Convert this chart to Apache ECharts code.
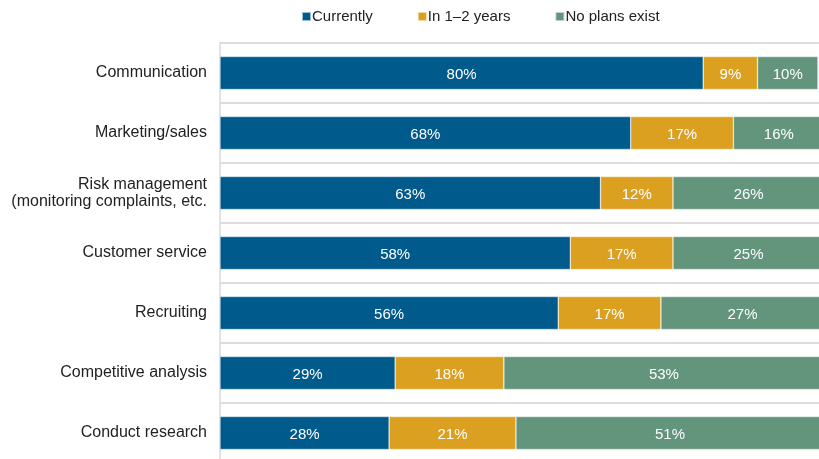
<!DOCTYPE html>
<html>
<head>
<meta charset="utf-8">
<script src="https://cdn.jsdelivr.net/npm/echarts@6/dist/echarts.min.js"></script>
<style>
  html, body { margin: 0; padding: 0; background: #fff; }
  #chart { width: 819px; height: 459px; }
</style>
</head>
<body>
<div id="chart"></div>
<script>
// Use of social media by purpose (share of respondents, %)
const categories = [
  'Communication',
  'Marketing/sales',
  'Risk management\n(monitoring complaints, etc.',
  'Customer service',
  'Recruiting',
  'Competitive analysis',
  'Conduct research'
];
const currently = [80, 68, 63, 58, 56, 29, 28];
const inOneToTwoYears = [9, 17, 12, 17, 17, 18, 21];
const noPlansExist = [10, 16, 26, 25, 27, 53, 51];

const seriesNames = ['Currently', 'In 1\u20132 years', 'No plans exist'];
const colors = ['#005a8b', '#dca020', '#62957b'];

const font = 'Liberation Sans, Arial, sans-serif';

function makeSeries(name, data, color) {
  return {
    name: name,
    type: 'bar',
    stack: 'total',
    data: data,
    barWidth: '55%',
    itemStyle: { color: color, borderColor: 'rgba(255,255,255,0.6)', borderWidth: 0.6 },
    label: {
      show: true,
      position: 'inside',
      offset: [0, 2],
      color: '#ffffff',
      fontFamily: font,
      fontSize: 15,
      formatter: p => p.value + '%'
    }
  };
}

const chart = echarts.init(document.getElementById('chart'));
chart.setOption({
  animation: false,
  textStyle: { fontFamily: font },
  legend: {
    top: 9,
    left: 301,
    padding: 0,
    itemWidth: 9,
    itemHeight: 9,
    itemGap: 44,
    icon: 'rect',
    textStyle: { fontSize: 15, color: '#222', fontFamily: font, padding: [0, 0, 0, -4] },
    data: seriesNames
  },
  grid: {
    left: 220, width: 604, top: 43, height: 420,
    containLabel: false, outerBoundsMode: 'none'
  },
  xAxis: {
    type: 'value',
    min: 0,
    max: 100,
    show: false
  },
  yAxis: {
    type: 'category',
    inverse: true,
    data: categories,
    axisLine: { show: true, lineStyle: { color: '#d9d9d9', width: 1.5 } },
    axisTick: { show: false },
    splitLine: { show: true, lineStyle: { color: '#dddddd', width: 2 } },
    axisLabel: {
      color: '#222',
      fontSize: 16,
      fontFamily: font,
      margin: 13,
      align: 'right',
      lineHeight: 17,
      padding: [4, 0, 0, 0]
    }
  },
  series: [
    makeSeries(seriesNames[0], currently, colors[0]),
    makeSeries(seriesNames[1], inOneToTwoYears, colors[1]),
    makeSeries(seriesNames[2], noPlansExist, colors[2])
  ]
});
</script>
</body>
</html>
